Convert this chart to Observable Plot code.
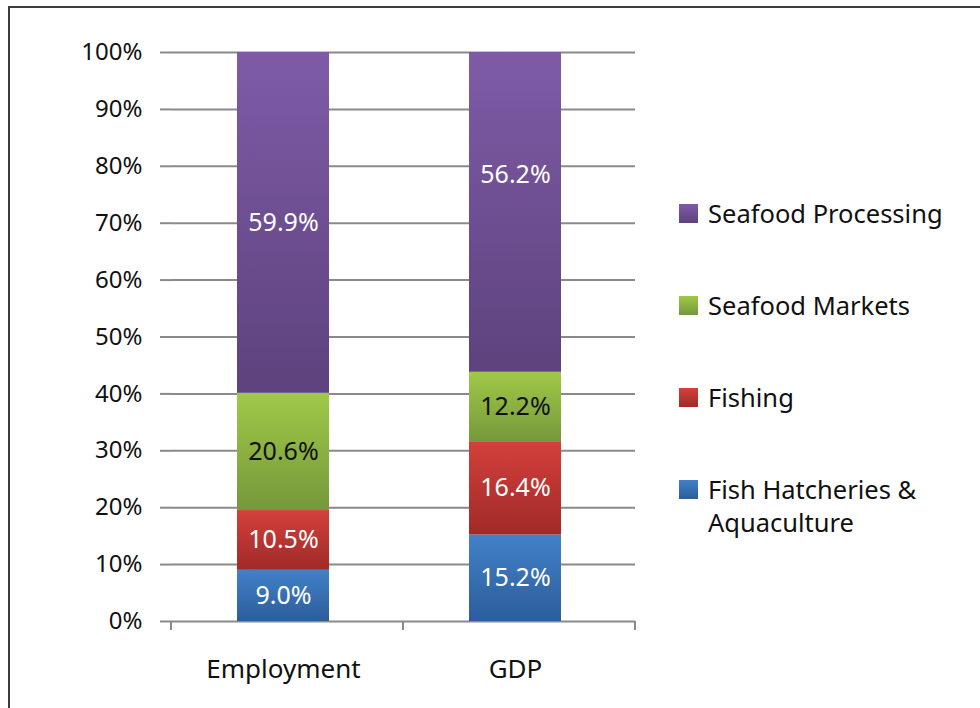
<!DOCTYPE html>
<html>
<head>
<meta charset="utf-8">
<script src="https://cdn.jsdelivr.net/npm/d3@7"></script>
<script src="https://cdn.jsdelivr.net/npm/@observablehq/plot@0.6"></script>
<style>
  html, body { margin: 0; padding: 0; background: #fff; }
  #wrap { position: relative; width: 980px; height: 708px; overflow: hidden; font-family: "Noto Sans", sans-serif; }
  #border { position: absolute; left: 8px; top: 6px; width: 1000px; height: 1000px; border-left: 2px solid #3c3c3c; border-top: 2px solid #3c3c3c; box-sizing: border-box; }
  #chart { position: absolute; left: 0; top: 0; }
  .legend-item { position: absolute; left: 679px; display: flex; align-items: flex-start; font-size: 25.5px; line-height: 33px; color: #111; }
  .swatch { width: 19px; height: 19px; margin-top: 7px; margin-right: 10px; flex: none; }
</style>
</head>
<body>
<div id="wrap">
  <div id="border"></div>
  <div id="chart"></div>
</div>
<script>
const categories = ["Employment", "GDP"];
const series = ["Fish Hatcheries & Aquaculture", "Fishing", "Seafood Markets", "Seafood Processing"];
const employmentShares = [9.0, 10.5, 20.6, 59.9];
const gdpShares = [15.2, 16.4, 12.2, 56.2];
const yTicks = [0, 10, 20, 30, 40, 50, 60, 70, 80, 90, 100];
const legendOrder = ["Seafood Processing", "Seafood Markets", "Fishing", "Fish Hatcheries & Aquaculture"];

const gradients = {
  "Fish Hatcheries & Aquaculture": ["#4281c8", "#2c5d9b"],
  "Fishing": ["#d3403c", "#a02a27"],
  "Seafood Markets": ["#a0c948", "#76983b"],
  "Seafood Processing": ["#7f5ba7", "#5d427d"]
};
const gradId = s => "grad" + series.indexOf(s);

const data = [];
categories.forEach((c, ci) => {
  const vals = ci === 0 ? employmentShares : gdpShares;
  series.forEach((s, si) => data.push({category: c, series: s, value: vals[si]}));
});

const fmt = v => v.toFixed(1) + "%";
// the GDP "Seafood Processing" label sits above the segment's middle in the original
const raised = d => d.category === "GDP" && d.series === "Seafood Processing";
const dark = d => d.series === "Seafood Markets";

function defsMark() {
  const defs = d3.create("svg:defs");
  for (const s of series) {
    const g = defs.append("linearGradient").attr("id", gradId(s)).attr("x1", 0).attr("y1", 0).attr("x2", 0).attr("y2", 1);
    g.append("stop").attr("offset", "0%").attr("stop-color", gradients[s][0]);
    g.append("stop").attr("offset", "100%").attr("stop-color", gradients[s][1]);
  }
  return defs.node();
}

function boundaryTicks(index, scales, values, dims) {
  const y0 = scales.y(0);
  const left = dims.marginLeft;
  const right = dims.width - dims.marginRight;
  const pos = d3.range(categories.length + 1).map(i => left + (right - left) * i / categories.length);
  const g = d3.create("svg:g");
  g.selectAll("line").data(pos).join("line")
    .attr("x1", d => d).attr("x2", d => d)
    .attr("y1", y0).attr("y2", y0 + 9)
    .attr("stroke", "#8a8a8a").attr("stroke-width", 2);
  return g.node();
}

const plot = Plot.plot({
  width: 980,
  height: 708,
  marginLeft: 171,
  marginTop: 52,
  marginBottom: 87,
  marginRight: 345,
  style: {fontFamily: "Noto Sans, sans-serif", background: "transparent"},
  x: {domain: categories, paddingInner: 0.605, paddingOuter: 0.3, align: 0.473, label: null},
  y: {domain: [0, 100], label: null},
  color: {domain: series, range: series.map(s => `url(#${gradId(s)})`)},
  marks: [
    defsMark,
    Plot.ruleY(yTicks, {stroke: "#8a8a8a", strokeWidth: 2}),
    Plot.barY(data, Plot.stackY({x: "category", y: "value", fill: "series"})),
    Plot.text(data, Plot.stackY({x: "category", y: "value", text: d => dark(d) || raised(d) ? null : fmt(d.value), fill: "white", fontSize: 25})),
    Plot.text(data, Plot.stackY({x: "category", y: "value", text: d => raised(d) ? fmt(d.value) : null, fill: "white", fontSize: 25, dy: -37})),
    Plot.text(data, Plot.stackY({x: "category", y: "value", text: d => dark(d) ? fmt(d.value) : null, fill: "#111", fontSize: 25})),
    Plot.axisY({ticks: yTicks, tickFormat: d => d + "%", tickSize: 11, tickPadding: 18, stroke: "#8a8a8a", strokeWidth: 2, fontSize: 24, fill: "#111", strokeOpacity: 1}),
    Plot.ruleX([0], {x: () => null, frameAnchor: "left", stroke: "#8a8a8a", strokeWidth: 2}),
    Plot.axisX({tickSize: 0, tickPadding: 38, fontSize: 26, fill: "#111"}),
    boundaryTicks
  ]
});
document.getElementById("chart").appendChild(plot);

const legendTops = {"Seafood Processing": 197, "Seafood Markets": 289, "Fishing": 381, "Fish Hatcheries & Aquaculture": 473};
const wrap = document.getElementById("wrap");
for (const s of legendOrder) {
  const item = document.createElement("div");
  item.className = "legend-item";
  item.style.top = legendTops[s] + "px";
  const sw = document.createElement("div");
  sw.className = "swatch";
  sw.style.background = `linear-gradient(${gradients[s][0]}, ${gradients[s][1]})`;
  const label = document.createElement("div");
  label.innerHTML = s === "Fish Hatcheries & Aquaculture" ? "Fish Hatcheries &amp;<br>Aquaculture" : s;
  item.appendChild(sw);
  item.appendChild(label);
  wrap.appendChild(item);
}
</script>
</body>
</html>
